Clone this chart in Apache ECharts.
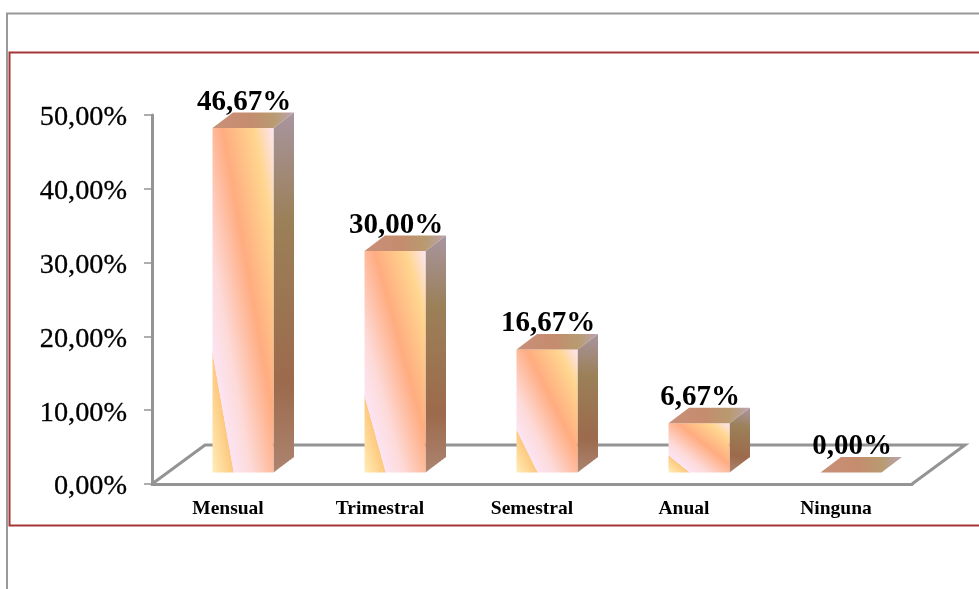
<!DOCTYPE html>
<html>
<head>
<meta charset="utf-8">
<style>html,body{margin:0;padding:0;background:#fff}#c{width:979px;height:589px}</style>
<script src="https://cdn.jsdelivr.net/npm/echarts@6/dist/echarts.min.js"></script>
</head>
<body>
<div id="c"></div>
<script>
const categories = ['Mensual', 'Trimestral', 'Semestral', 'Anual', 'Ninguna'];
const percentValues = [46.67, 30.00, 16.67, 6.67, 0.00];
const axisMax = 50;
const axisStep = 10;

const SERIF = '"Liberation Serif", serif';
const BAR_W = 61, DX = 20.5, DY = 15.5;      // bar box and its depth
const SHIFT_X = 15, SHIFT_Y = 11.5;          // bars stand in the middle of the floor
const FLOOR_DX = 53, FLOOR_DY = 39;
const GRAY = '#949494';

const fmt = v => v.toFixed(2).replace('.', ',') + '%';

function frontGradient(x, y, w, h) {
  const len = Math.sqrt(w * w + h * h) || 1;
  const k = w * h / len;
  const cx = x + w / 2, cy = y + h / 2;
  const nx = h / len, ny = -w / len;
  return new echarts.graphic.LinearGradient(cx - nx * k, cy - ny * k, cx + nx * k, cy + ny * k, [
    { offset: 0, color: '#FFEDB8' },
    { offset: 0.17, color: '#FDC97F' },
    { offset: 0.175, color: '#FCE4F3' },
    { offset: 0.32, color: '#FDDAD8' },
    { offset: 0.58, color: '#FFAC80' },
    { offset: 0.84, color: '#FFD68F' },
    { offset: 1, color: '#FCE4F3' }
  ], true);
}
const sideGradient = new echarts.graphic.LinearGradient(0.2, 1, 0.8, 0, [
  { offset: 0, color: '#AC8470' },
  { offset: 0.25, color: '#9C6A4C' },
  { offset: 0.7, color: '#9B8058' },
  { offset: 1, color: '#A8959F' }
]);
const topGradient = new echarts.graphic.LinearGradient(0, 0.7, 1, 0.3, [
  { offset: 0, color: '#C9907A' },
  { offset: 0.45, color: '#C58C6E' },
  { offset: 0.75, color: '#B89B70' },
  { offset: 1, color: '#BBA3AE' }
]);

function renderBar(params, api) {
  const i = api.value(0), v = api.value(1);
  const base = api.coord([i, 0]);
  const head = api.coord([i, v]);
  const x0 = base[0] + SHIFT_X - BAR_W / 2, x1 = x0 + BAR_W;
  const yb = base[1] - SHIFT_Y, yt = head[1] - SHIFT_Y;
  const children = [];
  if (yb - yt > 0.5) {
    children.push({
      type: 'polygon',
      shape: { points: [[x1, yt], [x1 + DX, yt - DY], [x1 + DX, yb - DY], [x1, yb]] },
      style: { fill: sideGradient }
    });
    children.push({
      type: 'rect',
      shape: { x: x0, y: yt, width: BAR_W, height: yb - yt },
      style: { fill: frontGradient(x0, yt, BAR_W, yb - yt) }
    });
  }
  children.push({
    type: 'polygon',
    shape: { points: [[x0, yt], [x0 + DX, yt - DY], [x1 + DX, yt - DY], [x1, yt]] },
    style: { fill: topGradient }
  });
  children.push({
    type: 'text',
    style: {
      x: base[0] + SHIFT_X + 1, y: yt - DY - 10,
      text: fmt(v), align: 'center', verticalAlign: 'middle',
      font: 'bold 29px ' + SERIF, fill: '#000'
    }
  });
  return { type: 'group', children };
}

function renderFloor(params, api) {
  const c = params.coordSys;
  const y = c.y + c.height, x0 = c.x, x1 = c.x + c.width;
  return {
    type: 'polyline',
    shape: { points: [[x0, y], [x0 + FLOOR_DX, y - FLOOR_DY], [x1 + FLOOR_DX, y - FLOOR_DY], [x1, y]] },
    style: { fill: 'none', stroke: GRAY, lineWidth: 3 },
    silent: true
  };
}

const chart = echarts.init(document.getElementById('c'), null, { renderer: 'canvas' });
chart.setOption({
  animation: false,
  backgroundColor: '#fff',
  graphic: [
    { type: 'polyline', z: 0, shape: { points: [[7, 589], [7, 13.5], [979, 13.5]] },
      style: { fill: 'none', stroke: '#999', lineWidth: 2 } },
    { type: 'polyline', z: 0, shape: { points: [[979, 52.5], [9.5, 52.5], [9.5, 525.5], [979, 525.5]] },
      style: { fill: '#fff', stroke: '#A53636', lineWidth: 2 } }
  ],
  grid: { left: 152, right: 67, top: 115, bottom: 105 },
  xAxis: {
    type: 'category',
    data: categories,
    axisLine: { lineStyle: { color: GRAY, width: 3 } },
    axisTick: { length: 6, lineStyle: { color: GRAY, width: 1.5 }, alignWithLabel: false },
    axisLabel: { interval: 0, margin: 15, color: '#000', fontFamily: SERIF, fontWeight: 'bold', fontSize: 19.5 }
  },
  yAxis: {
    type: 'value',
    min: 0, max: axisMax, interval: axisStep,
    splitLine: { show: false },
    axisLine: { show: true, lineStyle: { color: GRAY, width: 3 } },
    axisTick: { show: true, length: 8, lineStyle: { color: GRAY, width: 1.5 } },
    axisLabel: {
      margin: 25,
      formatter: v => '{t|' + fmt(v) + '}',
      rich: {
        t: {
          color: '#000', fontFamily: SERIF, fontSize: 28.3, lineHeight: 30,
          padding: [6, 0, 0, 0], textBorderColor: '#000', textBorderWidth: 0.3
        }
      }
    }
  },
  series: [
    { type: 'custom', z: 1, silent: true, clip: false, renderItem: renderFloor, data: [0] },
    {
      type: 'custom', z: 2, silent: true, clip: false, renderItem: renderBar,
      encode: { x: 0, y: 1 },
      data: percentValues.map((v, i) => [i, v])
    }
  ]
});
</script>
</body>
</html>
